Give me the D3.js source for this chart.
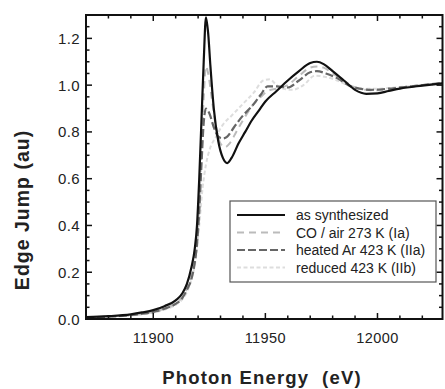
<!DOCTYPE html>
<html>
<head>
<meta charset="utf-8">
<script src="https://cdn.jsdelivr.net/npm/d3@7"></script>
<style>
  body { margin: 0; background: #fff; }
  text { font-family: "Liberation Sans", Arial, sans-serif; fill: #222; }
</style>
</head>
<body>
<svg id="xas" width="445" height="389"></svg>
<script>
// energies (eV) and normalized absorption per sample
const synthE = [11870, 11880, 11890, 11895, 11900, 11905, 11910, 11913, 11915, 11917, 11918.5, 11919.5, 11920.5, 11921.5, 11922.5, 11923.5, 11924.5, 11925.5, 11927, 11929, 11931, 11933, 11935, 11938, 11941, 11944, 11947, 11950, 11955, 11960, 11965, 11970, 11973, 11976, 11980, 11985, 11990, 11995, 12000, 12005, 12010, 12020, 12029];
const synthV = [0.008, 0.012, 0.02, 0.028, 0.038, 0.055, 0.08, 0.11, 0.15, 0.22, 0.30, 0.40, 0.60, 0.85, 1.10, 1.29, 1.22, 1.08, 0.90, 0.76, 0.69, 0.667, 0.69, 0.75, 0.80, 0.85, 0.89, 0.93, 0.975, 1.02, 1.06, 1.095, 1.10, 1.09, 1.06, 1.02, 0.98, 0.963, 0.965, 0.975, 0.985, 0.998, 1.008];

const coE = [11870, 11880, 11890, 11900, 11905, 11910, 11913, 11915, 11917, 11918.5, 11919.5, 11920.5, 11921.5, 11922.5, 11923.5, 11924.5, 11926, 11928, 11930, 11932, 11934, 11937, 11940, 11944, 11948, 11951, 11955, 11960, 11965, 11970, 11973, 11976, 11980, 11985, 11990, 11995, 12000, 12010, 12020, 12029];
const coV = [0.006, 0.01, 0.017, 0.03, 0.045, 0.068, 0.095, 0.13, 0.19, 0.26, 0.34, 0.50, 0.72, 0.95, 1.08, 1.05, 0.95, 0.82, 0.75, 0.735, 0.75, 0.80, 0.85, 0.91, 0.95, 0.975, 0.985, 1.0, 1.04, 1.075, 1.08, 1.075, 1.05, 1.02, 0.99, 0.98, 0.978, 0.99, 1.0, 1.008];

const arE = [11870, 11880, 11890, 11900, 11905, 11910, 11913, 11915, 11917, 11918.5, 11919.5, 11920.5, 11921.5, 11922.5, 11923.5, 11925, 11927, 11929, 11931, 11933, 11936, 11940, 11944, 11948, 11951, 11955, 11960, 11965, 11970, 11973, 11977, 11982, 11987, 11992, 11997, 12005, 12015, 12029];
const arV = [0.006, 0.01, 0.017, 0.03, 0.044, 0.065, 0.09, 0.125, 0.17, 0.24, 0.32, 0.46, 0.66, 0.84, 0.90, 0.88, 0.82, 0.78, 0.772, 0.78, 0.82, 0.87, 0.91, 0.96, 0.995, 0.995, 0.99, 1.02, 1.055, 1.06, 1.05, 1.03, 1.0, 0.985, 0.98, 0.985, 0.995, 1.01];

const redE = [11870, 11880, 11890, 11900, 11905, 11910, 11913, 11915, 11917, 11919, 11920.5, 11922, 11923.5, 11925, 11928, 11931, 11935, 11940, 11945, 11949, 11952, 11955, 11958, 11962, 11967, 11972, 11977, 11982, 11987, 11993, 12000, 12010, 12020, 12029];
const redV = [0.005, 0.009, 0.015, 0.027, 0.04, 0.06, 0.085, 0.115, 0.17, 0.26, 0.40, 0.56, 0.66, 0.72, 0.78, 0.83, 0.87, 0.92, 0.97, 1.02, 1.025, 1.0, 0.985, 0.98, 1.0, 1.04, 1.035, 1.02, 1.0, 0.985, 0.985, 0.992, 1.0, 1.005];

const seriesNames = ["as synthesized", "CO / air 273 K (Ia)", "heated Ar 423 K (IIa)", "reduced 423 K (IIb)"];
const xMajor = [11900, 11950, 12000];
const yMajor = [0, 0.2, 0.4, 0.6, 0.8, 1.0, 1.2];

const series = [
  { name: seriesNames[0], e: synthE, v: synthV, color: "#111", width: 2.2, dash: null },
  { name: seriesNames[1], e: coE, v: coV, color: "#bbb", width: 2, dash: "7,5" },
  { name: seriesNames[2], e: arE, v: arV, color: "#666", width: 2.2, dash: "8,3" },
  { name: seriesNames[3], e: redE, v: redV, color: "#ddd", width: 2, dash: "4,2.5" }
];

var svg = d3.select("svg#xas");
var x = d3.scaleLinear().domain([11870, 12029]).range([86, 442.5]);
var y = d3.scaleLinear().domain([0, 1.3]).range([319, 15]);

svg.append("clipPath").attr("id", "plotclip")
  .append("rect").attr("x", 86).attr("y", 15).attr("width", 356.5).attr("height", 304);

var line = d3.line()
  .x((d) => x(d[0]))
  .y((d) => y(d[1]))
  .curve(d3.curveMonotoneX);

// draw lightest first so black ends on top
var plot = svg.append("g").attr("clip-path", "url(#plotclip)");
[3, 1, 2, 0].forEach(function(i) {
  var s = series[i];
  plot.append("path")
    .datum(s.e.map((e, j) => [e, s.v[j]]))
    .attr("fill", "none")
    .attr("stroke", s.color)
    .attr("stroke-width", s.width)
    .attr("stroke-dasharray", s.dash)
    .attr("d", line);
});

// Axes with inward ticks on all four sides
var xMinor = d3.range(11880, 12029, 10).filter((t) => xMajor.indexOf(t) < 0);
var yMinor = d3.range(0.05, 1.3, 0.05).filter((t) => yMajor.every((m) => Math.abs(m - t) > 1e-6));

function ticksX(g, sc, vals, len, baseY, dir) {
  g.selectAll(null).data(vals).enter().append("line")
    .attr("x1", (d) => sc(d)).attr("x2", (d) => sc(d))
    .attr("y1", baseY).attr("y2", baseY + dir * len)
    .attr("stroke", "#111").attr("stroke-width", 1.5);
}
function ticksY(g, sc, vals, len, baseX, dir) {
  g.selectAll(null).data(vals).enter().append("line")
    .attr("y1", (d) => sc(d)).attr("y2", (d) => sc(d))
    .attr("x1", baseX).attr("x2", baseX + dir * len)
    .attr("stroke", "#111").attr("stroke-width", 1.5);
}
var axes = svg.append("g");
ticksX(axes, x, xMajor, 6, 319, -1);
ticksX(axes, x, xMinor, 3.5, 319, -1);
ticksX(axes, x, xMajor, 6, 15, 1);
ticksX(axes, x, xMinor, 3.5, 15, 1);
ticksY(axes, y, yMajor, 6, 86, 1);
ticksY(axes, y, yMinor, 3.5, 86, 1);
ticksY(axes, y, yMajor, 6, 442.5, -1);
ticksY(axes, y, yMinor, 3.5, 442.5, -1);

axes.append("rect")
  .attr("x", 86).attr("y", 15).attr("width", 356.5).attr("height", 304)
  .attr("fill", "none").attr("stroke", "#111").attr("stroke-width", 2);

// tick labels
svg.append("g").selectAll("text").data(xMajor).enter().append("text")
  .attr("x", (d) => x(d)).attr("y", 343)
  .attr("text-anchor", "middle").attr("font-size", 14.5).attr("letter-spacing", 0.4)
  .text((d) => d);
svg.append("g").selectAll("text").data(yMajor).enter().append("text")
  .attr("x", 80).attr("y", (d) => y(d) + 5.5)
  .attr("text-anchor", "end").attr("font-size", 15).attr("letter-spacing", 0.4)
  .text((d) => d3.format(".1f")(d));

// axis titles
svg.append("text")
  .attr("x", 262).attr("y", 384)
  .attr("text-anchor", "middle").attr("font-size", 18.5).attr("font-weight", "bold")
  .attr("letter-spacing", 1.2)
  .attr("xml:space", "preserve")
  .text("Photon Energy  (eV)");
svg.append("text")
  .attr("transform", "translate(29,210) rotate(-90)")
  .attr("text-anchor", "middle").attr("font-size", 19.5).attr("font-weight", "bold")
  .attr("letter-spacing", 1)
  .text("Edge Jump (au)");

// Legend
var legend = svg.append("g");
legend.append("rect")
  .attr("x", 230).attr("y", 201).attr("width", 206).attr("height", 81)
  .attr("fill", "#fff").attr("stroke", "#555").attr("stroke-width", 1.2);
series.forEach(function(s, i) {
  var ly = 215 + i * 17.5;
  legend.append("line")
    .attr("x1", 237).attr("x2", 285).attr("y1", ly).attr("y2", ly)
    .attr("stroke", s.color).attr("stroke-width", s.width)
    .attr("stroke-dasharray", s.dash);
  legend.append("text")
    .attr("x", 296).attr("y", ly + 5)
    .attr("font-size", 14)
    .text(s.name);
});
</script>
</body>
</html>
